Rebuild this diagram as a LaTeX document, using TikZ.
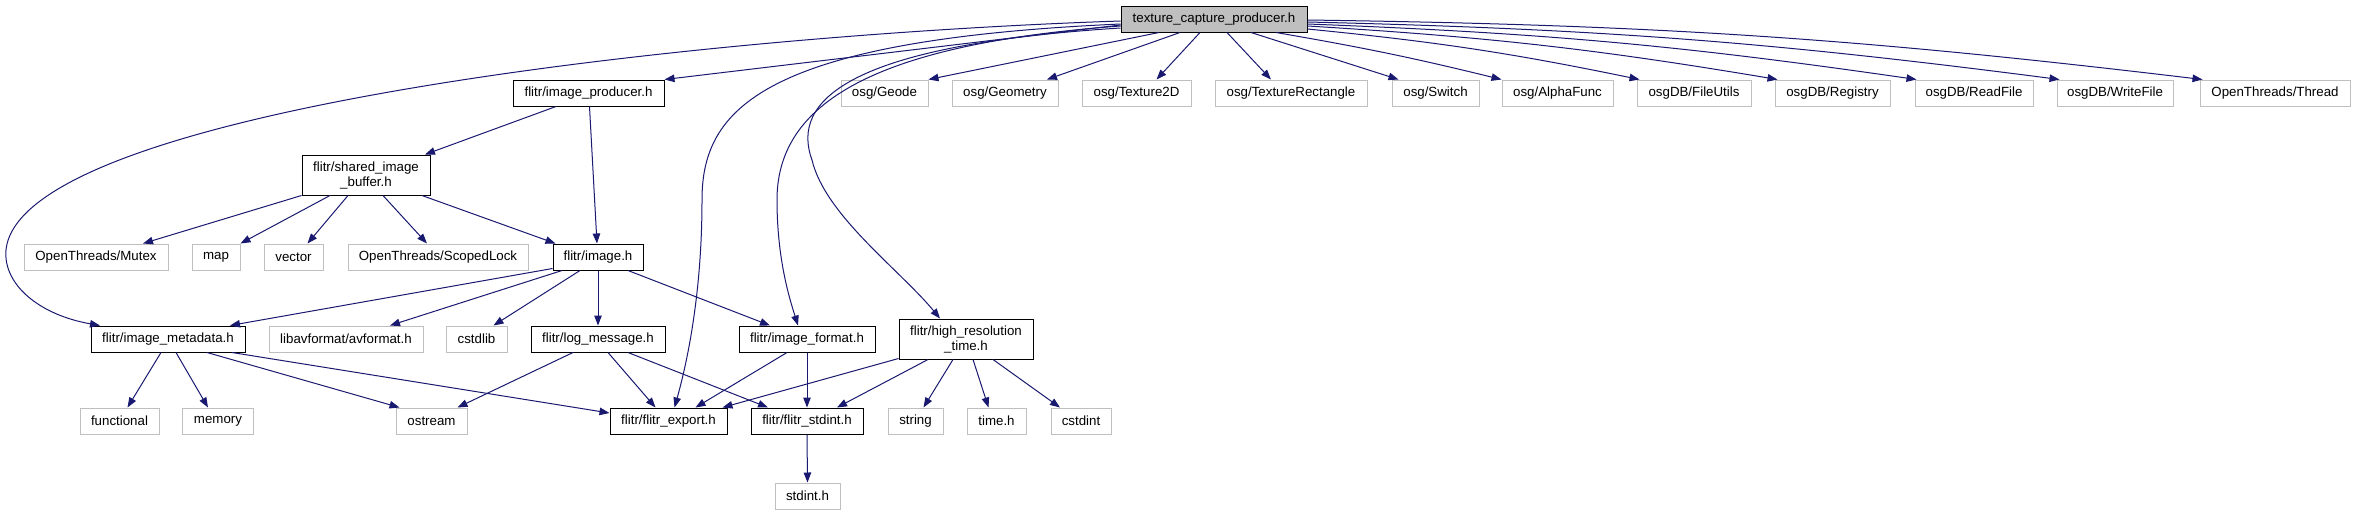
\documentclass[tikz,border=0pt]{standalone}
\usepackage{fontspec}
\setmainfont{Liberation Sans}
\usetikzlibrary{arrows.meta}
\definecolor{edgeblue}{RGB}{25,25,112}
\definecolor{extgray}{RGB}{191,191,191}
\tikzset{
  hdr/.style={draw=black, line width=1pt, inner sep=0pt, minimum height=26pt, align=center, font=\fontsize{13.3}{15}\selectfont},
  sysh/.style={hdr, draw=extgray},
  inc/.style={edgeblue, line width=1pt, -{Triangle[length=10pt,width=7.5pt]}},
}
\begin{document}
\begin{tikzpicture}[x=1pt,y=-1pt]
\useasboundingbox (0,0) rectangle (2355,515);
% row 0
\node[hdr, fill=extgray, minimum width=186pt] (tcp) at (1214,19) {texture\_capture\_producer.h};
% row 1
\node[hdr, minimum width=151pt] (prod) at (588.5,93) {flitr/image\_producer.h};
\node[sysh, minimum width=87pt] (geode) at (884.5,93) {osg/Geode};
\node[sysh, minimum width=106pt] (geometry) at (1005,93) {osg/Geometry};
\node[sysh, minimum width=109pt] (tex2d) at (1136.5,93) {osg/Texture2D};
\node[sysh, minimum width=152pt] (texrect) at (1291,93) {osg/TextureRectangle};
\node[sysh, minimum width=87pt] (switch) at (1435.5,93) {osg/Switch};
\node[sysh, minimum width=111pt] (alpha) at (1557.5,93) {osg/AlphaFunc};
\node[sysh, minimum width=114pt] (fileutils) at (1694,93) {osgDB/FileUtils};
\node[sysh, minimum width=115pt] (registry) at (1832.5,93) {osgDB/Registry};
\node[sysh, minimum width=118pt] (readfile) at (1974,93) {osgDB/ReadFile};
\node[sysh, minimum width=116pt] (writefile) at (2115,93) {osgDB/WriteFile};
\node[sysh, minimum width=150pt] (thread) at (2275,93) {OpenThreads/Thread};
% row 2
\node[hdr, minimum width=128pt, minimum height=40pt] (shbuf) at (366,175) {flitr/shared\_image\\\_buffer.h};
% row 3
\node[sysh, minimum width=144pt] (mutex) at (96,257) {OpenThreads/Mutex};
\node[sysh, minimum width=48pt] (map) at (216,257) {map};
\node[sysh, minimum width=59pt] (vector) at (293.5,257) {vector};
\node[sysh, minimum width=180pt] (scoped) at (438,257) {OpenThreads/ScopedLock};
\node[hdr, minimum width=90pt] (image) at (598,257) {flitr/image.h};
% row 4
\node[hdr, minimum width=154pt] (meta) at (168,339) {flitr/image\_metadata.h};
\node[sysh, minimum width=154pt] (avformat) at (346,339) {libavformat/avformat.h};
\node[sysh, minimum width=61pt] (cstdlib) at (476.5,339) {cstdlib};
\node[hdr, minimum width=134pt] (logmsg) at (598,339) {flitr/log\_message.h};
\node[hdr, minimum width=136pt] (imgfmt) at (807,339) {flitr/image\_format.h};
\node[hdr, minimum width=134pt, minimum height=40pt] (hrtime) at (966,339) {flitr/high\_resolution\\\_time.h};
% row 5
\node[sysh, minimum width=79pt] (functional) at (119.5,421) {functional};
\node[sysh, minimum width=71pt] (memory) at (218,421) {memory};
\node[sysh, minimum width=71pt] (ostream) at (431.5,421) {ostream};
\node[hdr, minimum width=117pt] (export) at (668.5,421) {flitr/flitr\_export.h};
\node[hdr, minimum width=112pt] (stdintf) at (807,421) {flitr/flitr\_stdint.h};
\node[sysh, minimum width=55pt] (string) at (915.5,421) {string};
\node[sysh, minimum width=59pt] (timeh) at (996.5,421) {time.h};
\node[sysh, minimum width=60pt] (cstdint) at (1081,421) {cstdint};
% row 6
\node[sysh, minimum width=65pt] (stdint) at (807.5,496) {stdint.h};

% edges from texture_capture_producer.h
\draw[inc] ([yshift=-2]tcp.west) .. controls (700,35) and (20,110) .. (6,250) .. controls (3,285) and (40,315) .. ([xshift=-68]meta.north);
\draw[inc] ([yshift=-6]tcp.west) -- (prod.north east);
\draw[inc] ([yshift=-5]tcp.west) .. controls (760,40) and (702,110) .. (702,200) .. controls (702,300) and (685,370) .. ([xshift=6]export.north);
\draw[inc] ([yshift=-7]tcp.west) .. controls (860,45) and (777,110) .. (777,200) .. controls (777,260) and (790,300) .. ([xshift=-9]imgfmt.north);
\draw[inc] ([yshift=-9]tcp.west) .. controls (850,45) and (790,100) .. (812,160) .. controls (825,215) and (900,270) .. ([xshift=-26]hrtime.north);
\draw[inc] ([xshift=-55]tcp.south) -- (geode.north east);
\draw[inc] ([xshift=-34]tcp.south) -- ([xshift=42]geometry.north);
\draw[inc] ([xshift=-14]tcp.south) -- ([xshift=20]tex2d.north);
\draw[inc] ([xshift=13]tcp.south) -- ([xshift=-20]texrect.north);
\draw[inc] ([xshift=37]tcp.south) -- ([xshift=-37]switch.north);
\draw[inc] ([xshift=62]tcp.south) to[bend left=2] (alpha.north west);
\draw[inc] ([yshift=-10]tcp.east) to[bend left=3] ([xshift=3]fileutils.north west);
\draw[inc] ([yshift=-7]tcp.east) to[bend left=3] ([xshift=3]registry.north west);
\draw[inc] ([yshift=-5]tcp.east) to[bend left=3] ([xshift=2]readfile.north west);
\draw[inc] ([yshift=-3]tcp.east) to[bend left=3] ([xshift=3]writefile.north west);
\draw[inc] ([yshift=-1]tcp.east) to[bend left=3] ([xshift=3]thread.north west);

% image_producer.h and shared_image_buffer.h
\draw[inc] ([xshift=-32.5]prod.south) -- ([xshift=59]shbuf.north);
\draw[inc] ([xshift=1]prod.south) -- ([xshift=-1]image.north);
\draw[inc] (shbuf.south west) -- ([xshift=47]mutex.north);
\draw[inc] ([xshift=-36]shbuf.south) -- (map.north east);
\draw[inc] ([xshift=-18]shbuf.south) -- ([xshift=14]vector.north);
\draw[inc] ([xshift=17]shbuf.south) -- ([xshift=-11]scoped.north);
\draw[inc] ([xshift=56]shbuf.south) -- ([xshift=3]image.north west);

% image.h
\draw[inc] ([yshift=2]image.south west) -- ([xshift=62]meta.north);
\draw[inc] ([xshift=-36]image.south) -- ([xshift=44]avformat.north);
\draw[inc] ([xshift=-18]image.south) -- ([xshift=17]cstdlib.north);
\draw[inc] (image.south) -- (logmsg.north);
\draw[inc] ([xshift=30]image.south) -- ([xshift=-37]imgfmt.north);

% image_metadata.h, log_message.h, image_format.h
\draw[inc] ([xshift=-7]meta.south) -- ([xshift=8]functional.north);
\draw[inc] ([xshift=8]meta.south) -- ([xshift=-10]memory.north);
\draw[inc] ([xshift=39]meta.south) -- ([xshift=-32]ostream.north);
\draw[inc] ([xshift=64]meta.south) -- ([yshift=8]export.west);
\draw[inc] ([xshift=-25]logmsg.south) -- ([xshift=26]ostream.north);
\draw[inc] ([xshift=10]logmsg.south) -- ([xshift=-13]export.north);
\draw[inc] ([xshift=30]logmsg.south) -- ([xshift=-39]stdintf.north);
\draw[inc] ([xshift=-20]imgfmt.south) -- ([xshift=27]export.north);
\draw[inc] (imgfmt.south) -- (stdintf.north);

% high_resolution_time.h
\draw[inc] ([yshift=1]hrtime.south west) -- ([xshift=54]export.north);
\draw[inc] ([xshift=-38]hrtime.south) -- ([xshift=30]stdintf.north);
\draw[inc] ([xshift=-13]hrtime.south) -- ([xshift=8]string.north);
\draw[inc] ([xshift=7]hrtime.south) -- ([xshift=-8]timeh.north);
\draw[inc] ([xshift=27]hrtime.south) -- ([xshift=-21]cstdint.north);

\draw[inc] (stdintf.south) -- (stdint.north);
\end{tikzpicture}
\end{document}
